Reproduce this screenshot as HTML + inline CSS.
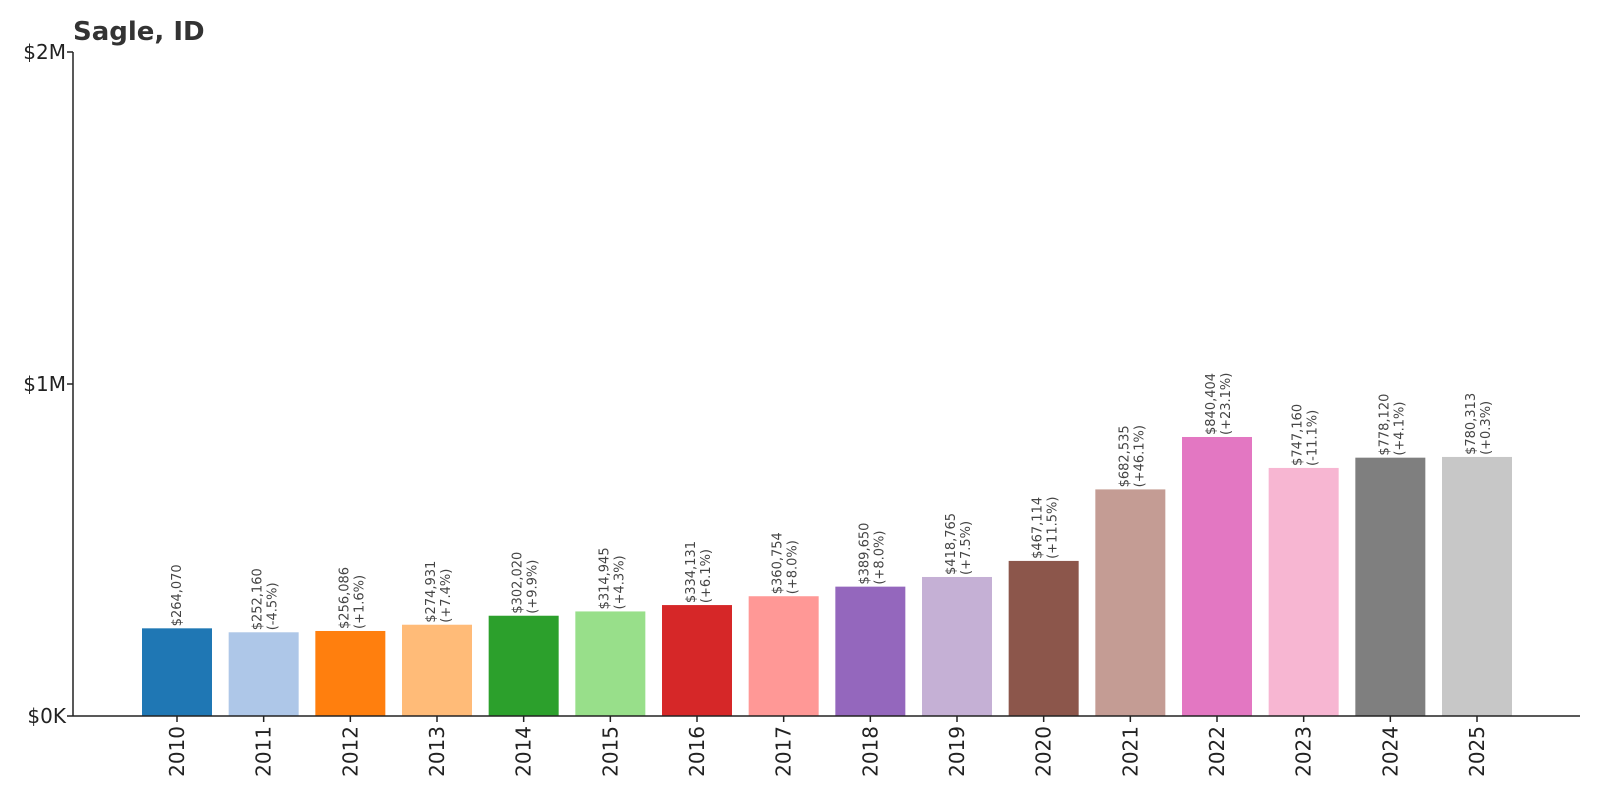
<!DOCTYPE html>
<html><head><meta charset="utf-8"><style>
body{margin:0;background:#fff;}
svg{display:block;font-family:"DejaVu Sans","Liberation Sans",sans-serif;}
</style></head><body>
<svg id="chart" width="1600" height="800" viewBox="0 0 1600 800"></svg>
<script>
const years=["2010","2011","2012","2013","2014","2015","2016","2017","2018","2019","2020","2021","2022","2023","2024","2025"];
const values=[264070,252160,256086,274931,302020,314945,334131,360754,389650,418765,467114,682535,840404,747160,778120,780313];
const changes=["","(-4.5%)","(+1.6%)","(+7.4%)","(+9.9%)","(+4.3%)","(+6.1%)","(+8.0%)","(+8.0%)","(+7.5%)","(+11.5%)","(+46.1%)","(+23.1%)","(-11.1%)","(+4.1%)","(+0.3%)"];
const yTicks=[0,1000000,2000000];
const yTickLabels=["$0K","$1M","$2M"];
const colors=["#1f77b4","#aec7e8","#ff7f0e","#ffbb78","#2ca02c","#98df8a","#d62728","#ff9896","#9467bd","#c5b0d5","#8c564b","#c49c94","#e377c2","#f7b6d2","#7f7f7f","#c7c7c7"];
const svg=document.getElementById('chart');
const NS='http://www.w3.org/2000/svg';
const L=73,R=1580,T=52,B=716;
const x=i=>177+i*(1300/15);
const y=v=>B-(v/2000000)*(B-T);
const bw=70;
function mk(tag,attrs,text){const e=document.createElementNS(NS,tag);for(const k in attrs)e.setAttribute(k,attrs[k]);if(text!==undefined)e.textContent=text;svg.appendChild(e);return e;}
let t=mk('text',{x:73,y:40,'font-size':26,'font-weight':'bold',fill:'#333'},'Sagle, ID');


values.forEach((v,i)=>{
  const r=mk('rect',{x:x(i)-bw/2,y:y(v),width:bw,height:B-y(v),fill:colors[i]});
  
  
  const cx=x(i),ty=y(v)-2;
  const g=mk('text',{transform:`translate(${cx},${ty}) rotate(-90)`,'font-size':13,fill:'#444'});
  
  
  const s1=document.createElementNS(NS,'tspan');s1.setAttribute('x',0);s1.setAttribute('y',changes[i]?-2:4);s1.textContent='$'+v.toLocaleString('en-US');g.appendChild(s1);
  if(changes[i]){const s2=document.createElementNS(NS,'tspan');s2.setAttribute('x',0);s2.setAttribute('y',13);s2.textContent=changes[i];g.appendChild(s2);}
  const tk=mk('line',{x1:cx,x2:cx,y1:B,y2:B+6,stroke:'#222','stroke-width':1.5});
  
  
  const yl=mk('text',{transform:`translate(${cx+7},${B+10}) rotate(-90)`,'font-size':20,fill:'#222','text-anchor':'end'},years[i]);
  
  
});
yTicks.forEach((v,i)=>{
  const tk=mk('line',{x1:L-6,x2:L,y1:y(v),y2:y(v),stroke:'#222','stroke-width':1.5});
  
  
  const tl=mk('text',{x:L-7,y:y(v)+7,'font-size':20,fill:'#222','text-anchor':'end'},yTickLabels[i]);
  
  
});
const ax=mk('line',{x1:L,x2:L,y1:T,y2:B,stroke:'#222','stroke-width':1.5});


const bx=mk('line',{x1:L,x2:R,y1:B,y2:B,stroke:'#222','stroke-width':1.5});


</script>
</body></html>
